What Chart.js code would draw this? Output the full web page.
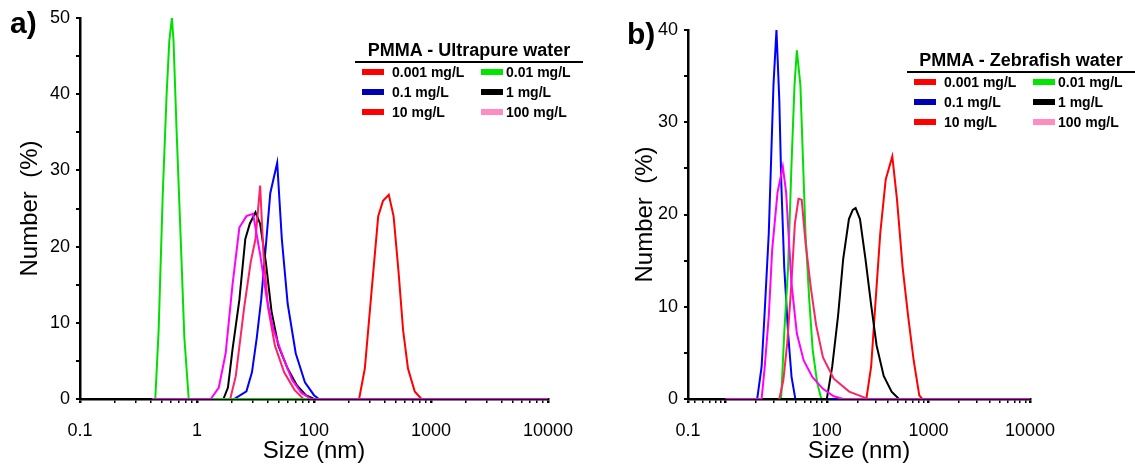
<!DOCTYPE html>
<html>
<head>
<meta charset="utf-8">
<script src="https://cdn.jsdelivr.net/npm/chart.js@4.4.1/dist/chart.umd.min.js"></script>
<style>
  body { margin: 0; background: #fff; width: 1135px; height: 470px; position: relative; overflow: hidden;
         font-family: "Liberation Sans", Arial, sans-serif; color: #000; }
  .wrap { position: absolute; top: 0; height: 470px; }
  #wrapA { left: 0; width: 590px; }
  #wrapB { left: 600px; width: 535px; }
  .tag { position: absolute; font-weight: bold; font-size: 30px; line-height: 30px; }
  .lg { position: absolute; font-weight: bold; white-space: nowrap; transform: translateY(-50%); }
  .lgTitle { font-size: 18px; transform: translate(-50%, -50%); }
  .lgText { font-size: 14px; }
  .rule { position: absolute; height: 2px; background: #000; }
  .sw { position: absolute; width: 22px; height: 6px; transform: translateY(-50%); }
</style>
</head>
<body>
<div class="wrap" id="wrapA"><canvas id="chartA"></canvas></div>
<div class="wrap" id="wrapB"><canvas id="chartB"></canvas></div>
<div class="tag" style="left:10px;top:8px">a)</div>
<div class="tag" style="left:627px;top:19px">b)</div>
<div id="legends"></div>
<script>
// Distribucion de tamanos (DLS) de PMMA, dos medios.

const seriesNames = ["0.001 mg/L", "0.01 mg/L", "0.1 mg/L", "1 mg/L", "10 mg/L", "100 mg/L"];
const lineColors = ["#ff0000", "#00e000", "#0000ff", "#000000", "#ff2266", "#ff00ff"];
const swatchColors = ["#ff0000", "#00e600", "#0000b4", "#000000", "#ff0000", "#ff8cc0"];

// a) ultrapure water: size (nm) / number (%)
const aRed001Size = [243, 272, 310, 354, 389, 436, 479, 526, 578, 636, 726, 829];
const aRed001Num  = [0, 4, 14, 24, 26, 26.8, 24, 17, 9, 4, 1, 0];
const aGreenSize  = [0.44, 0.47, 0.51, 0.55, 0.58, 0.61, 0.63, 0.67, 0.73, 0.78, 0.85, 110];
const aGreenNum   = [0, 9, 27, 40, 47, 50, 47, 35, 20, 8, 0, 0];
const aBlueSize   = [2, 4.3, 7.0, 8.7, 10.5, 12.5, 15, 17.9, 20.5, 23.5, 28.2, 35.5, 48.7, 70, 100, 110];
const aBlueNum    = [0, 0, 1, 3.5, 8, 13, 20, 27, 29, 31, 21, 12.5, 6, 2.2, 0.5, 0];
const aBlackSize  = [0.1, 2.83, 3.38, 4.05, 5.3, 6.7, 8.0, 10, 12, 15, 18.8, 24.6, 35.5, 50.8, 72.6, 100];
const aBlackNum   = [0, 0, 1.5, 6.5, 13, 21, 23, 24.5, 23, 18, 11.5, 7, 4, 1.8, 0.5, 0];
const aRed10Size  = [3.7, 4.6, 6.4, 8.3, 10, 12, 13.7, 16.4, 21.5, 30.9, 46.4, 66];
const aRed10Num   = [0, 3, 12, 18, 21, 28, 19, 12, 7, 3.5, 1.2, 0];
const aPinkSize   = [0.41, 1.72, 2.36, 3.09, 4.05, 5.3, 7.0, 9.1, 12, 15.7, 20.5, 29.5, 42.4, 61, 90, 10000];
const aPinkNum    = [0, 0, 1.5, 6, 15, 22.5, 24, 24.3, 19, 13, 9, 5.5, 2.5, 0.8, 0, 0];

// b) zebrafish water
const bRed001Size = [245, 273, 295, 336, 380, 441, 490, 557, 631, 716, 813, 871];
const bRed001Num  = [0, 3.5, 9, 18, 23.8, 26.3, 21.7, 14.3, 9, 4.2, 0.4, 0];
const bGreenSize  = [12.6, 14.5, 17.3, 20.1, 23.1, 25.7, 30.2, 33.4, 38, 45, 52.5, 64.3, 78];
const bGreenNum   = [0, 7.1, 14.3, 25.2, 34, 37.8, 34, 27, 18, 10.8, 5.4, 1.8, 0];
const bBlueSize   = [4.26, 5.2, 6.0, 7.2, 8.0, 8.9, 10.2, 11.6, 12.7, 14.5, 17.3, 20.2, 24, 145];
const bBlueNum    = [0, 3.5, 9.6, 18, 25.9, 34, 40, 32.4, 23.4, 14.3, 7.1, 2.4, 0, 0];
const bBlackSize  = [0.43, 100, 113, 129, 145, 165, 180, 192, 212, 240, 273, 309, 363, 434, 513, 600];
const bBlackNum   = [0, 0, 3.5, 9, 15.2, 19.5, 20.5, 20.7, 19.5, 15.2, 10.2, 5.8, 2.5, 0.8, 0, 0];
const bRed10Size  = [11.6, 13.9, 16.6, 19.8, 23.5, 27.7, 32, 38, 48.6, 61.6, 84, 117, 166, 229, 251];
const bRed10Num   = [0, 2, 6, 12, 19, 21.7, 21.6, 17, 12, 8, 4.5, 2.2, 0.8, 0.2, 0];
const bPinkSize   = [1, 5.2, 6.0, 7.2, 8.4, 10.7, 13.6, 15.8, 20.1, 25.7, 34.9, 51.8, 83.9, 117, 145, 10000];
const bPinkNum    = [0, 0, 3.5, 9, 16.2, 22.4, 25.2, 22.4, 12.6, 7.1, 4.2, 2.4, 1.1, 0.3, 0, 0];

// eje x tal como esta rotulado en la figura original
const xTickSizesA  = [0.1, 1, 100, 1000, 10000];
const xTickLabelsA = ["0.1", "1", "100", "1000", "10000"];
const xTickSizesB  = [0.43, 1, 100, 1000, 10000];
const xTickLabelsB = ["0.1", "", "100", "1000", "10000"];
const yMaxA = 50, yMaxB = 40;

// posicion en el eje: un tramo por rotulo, log dentro de cada tramo
function toAxis(nm) {
  const l = Math.log10(nm);
  if (l <= 0) return l + 1;
  if (l <= 2) return 1 + l / 2;
  return l;
}

function pts(sizes, nums) { return sizes.map((s, i) => ({ x: toAxis(s), y: nums[i] })); }

function ds(idx, sizes, nums) {
  return { label: seriesNames[idx], data: pts(sizes, nums), borderColor: lineColors[idx],
    borderWidth: 2, pointRadius: 0, tension: 0, fill: false };
}

Chart.defaults.font.family = '"Liberation Sans", Arial, sans-serif';
Chart.defaults.color = "#000";

function makeChart(id, datasets, tickSizes, tickLabels, yMax, pad, yWidth) {
  const majors = tickSizes.map(toAxis);
  const lo = majors[0], hi = majors[majors.length - 1];
  const minors = [];
  for (let d = Math.floor(lo); d < hi; d++) {
    for (let m = 2; m <= 9; m++) {
      const v = d + Math.log10(m);
      if (v > lo + 0.02 && v < hi) minors.push(v);
    }
  }
  const isMajor = (v) => majors.some(m => Math.abs(m - v) < 1e-9);

  return new Chart(document.getElementById(id), {
    type: "line",
    data: { datasets },
    options: {
      responsive: true, maintainAspectRatio: false, animation: false,
      layout: { padding: { left: pad.left, right: pad.right, top: pad.top, bottom: 0 } },
      plugins: { legend: { display: false }, tooltip: { enabled: false } },
      scales: {
        x: {
          type: "linear", min: lo, max: hi,
          afterBuildTicks: (s) => {
            s.ticks = majors.concat(minors).sort((a, b) => a - b).map(v => ({ value: v }));
          },
          afterFit: (s) => { s.height = 71; },
          ticks: {
            autoSkip: false, maxRotation: 0, padding: 17, font: { size: 18 }, color: "#000",
            callback: (v) => {
              const i = majors.findIndex(m => Math.abs(m - v) < 1e-9);
              return i < 0 ? "" : tickLabels[i];
            }
          },
          grid: { drawOnChartArea: false, tickLength: 4, color: "#000",
            lineWidth: (c) => (c.tick && isMajor(c.tick.value)) ? 2.5 : 1.5 },
          border: { color: "#000", width: 2.5 },
          title: { display: true, text: "Size (nm)", font: { size: 24 }, color: "#000",
            padding: { top: 0, bottom: 4 } }
        },
        y: {
          min: 0, max: yMax,
          afterFit: (s) => { s.width = yWidth; },
          ticks: { stepSize: 5, padding: 6, font: { size: 18 }, color: "#000",
            callback: (v) => v % 10 === 0 ? v : "" },
          grid: { drawOnChartArea: false, tickLength: 4, color: "#000", lineWidth: 2 },
          border: { color: "#000", width: 2.5 },
          title: { display: true, text: "Number  (%)", font: { size: 24 }, color: "#000",
            padding: { top: 16, bottom: 0 } }
        }
      }
    }
  });
}

// el primero se dibuja encima
makeChart("chartA", [
  ds(5, aPinkSize, aPinkNum),
  ds(1, aGreenSize, aGreenNum),
  ds(4, aRed10Size, aRed10Num),
  ds(3, aBlackSize, aBlackNum),
  ds(2, aBlueSize, aBlueNum),
  ds(0, aRed001Size, aRed001Num)
], xTickSizesA, xTickLabelsA, yMaxA, { left: 0, right: 42, top: 18 }, 80);

makeChart("chartB", [
  ds(5, bPinkSize, bPinkNum),
  ds(4, bRed10Size, bRed10Num),
  ds(3, bBlackSize, bBlackNum),
  ds(1, bGreenSize, bGreenNum),
  ds(2, bBlueSize, bBlueNum),
  ds(0, bRed001Size, bRed001Num)
], xTickSizesB, xTickLabelsB, yMaxB, { left: 15, right: 105, top: 30 }, 73);

// leyendas con titulo subrayado, dos columnas
function legend(title, left, top) {
  const host = document.getElementById("legends");
  const add = (cls, css, text) => {
    const d = document.createElement("div");
    d.className = cls; d.style.cssText = css;
    if (text !== undefined) d.textContent = text;
    host.appendChild(d);
  };
  add("lg lgTitle", `left:${left + 114}px;top:${top}px`, title);
  add("rule", `left:${left}px;top:${top + 11}px;width:228px`);
  seriesNames.forEach((name, i) => {
    const col = i % 2, row = Math.floor(i / 2);
    const y = top + 22 + row * 20;
    const x = left + 7 + col * 119;
    add("sw", `left:${x}px;top:${y}px;background:${swatchColors[i]}`);
    add("lg lgText", `left:${x + (col ? 25 : 30)}px;top:${y}px`, name);
  });
}
legend("PMMA - Ultrapure water", 355, 50);
legend("PMMA - Zebrafish water", 907, 60);
</script>
</body>
</html>
